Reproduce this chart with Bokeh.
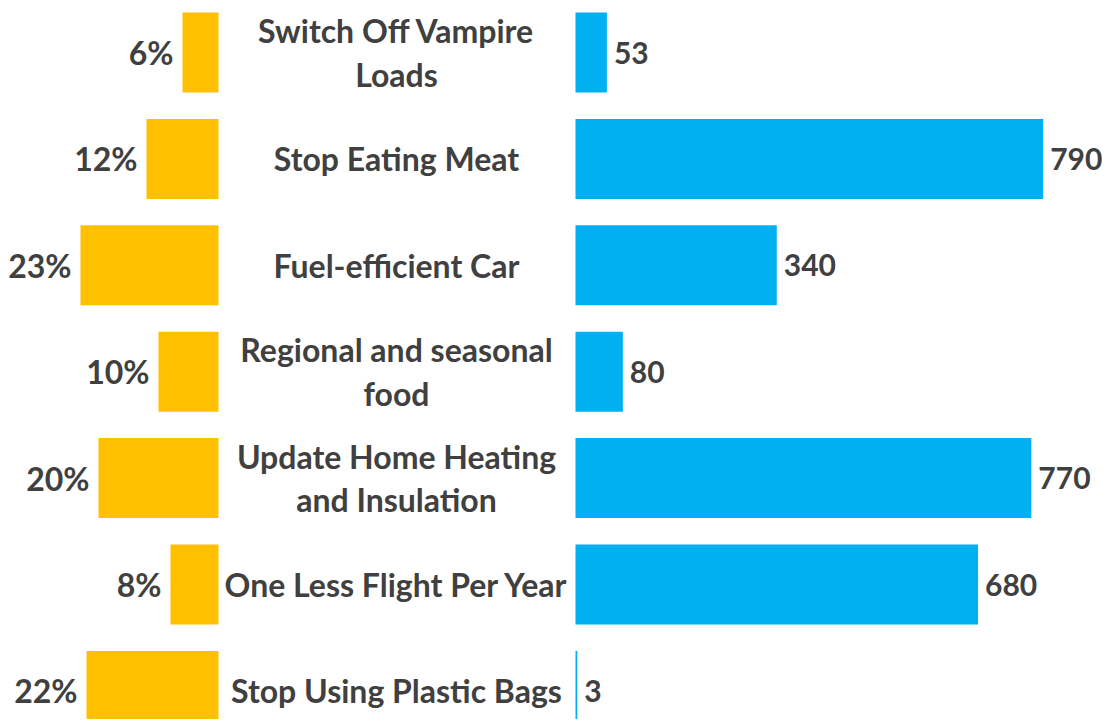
from bokeh.plotting import figure
from bokeh.models import Range1d, ColumnDataSource
from bokeh.core.properties import value
from bokeh.embed import file_html
from bokeh.resources import INLINE

categories = ["Switch Off Vampire\nLoads", "Stop Eating Meat", "Fuel-efficient Car",
              "Regional and seasonal\nfood", "Update Home Heating\nand Insulation",
              "One Less Flight Per Year", "Stop Using Plastic Bags"]
pct_values = [6, 12, 23, 10, 20, 8, 22]
co2_values = [53, 790, 340, 80, 770, 680, 3]

rows = list(range(len(categories)))
pct_labels = [f"{v}%" for v in pct_values]
co2_labels = [str(v) for v in co2_values]

W, H = 1102, 719
PCT_PX, PCT_ZERO = 6.0, 218      # px per percent, zero line of left bars
VAL_PX, VAL_ZERO = 0.592, 575    # px per unit, zero line of right bars
ROW0, PITCH = 52, 106.4

p = figure(width=W, height=H, output_backend="svg", toolbar_location=None,
           x_range=Range1d(0, W),
           y_range=Range1d((H - ROW0) / PITCH, (0 - ROW0) / PITCH),
           min_border=0, min_border_left=0, min_border_right=0,
           min_border_top=0, min_border_bottom=0)
p.extra_x_ranges = {
    "pct": Range1d(start=PCT_ZERO / PCT_PX, end=(PCT_ZERO - W) / PCT_PX),
    "val": Range1d(start=-VAL_ZERO / VAL_PX, end=(W - VAL_ZERO) / VAL_PX),
}
p.outline_line_color = None
p.xaxis.visible = False
p.yaxis.visible = False
p.xgrid.visible = False
p.ygrid.visible = False
p.background_fill_color = "white"
p.border_fill_color = "white"

src = ColumnDataSource(dict(y=rows, cat=categories, pct=pct_values, val=co2_values,
                            pl=pct_labels, vl=co2_labels, zero=[0] * len(rows)))

TXT = "#404040"
FONT = value("Lato")
FS = "32px"

p.hbar(y="y", left="zero", right="pct", height=80 / PITCH, source=src,
       fill_color="#FFC000", line_color=None, x_range_name="pct")
p.hbar(y="y", left="zero", right="val", height=80 / PITCH, source=src,
       fill_color="#00B0F0", line_color=None, x_range_name="val")

p.text(x="pct", y="y", text="pl", source=src, x_range_name="pct",
       x_offset=-9, text_align="right", text_baseline="middle",
       text_font=FONT, text_font_style="bold", text_font_size=FS, text_color=TXT)
p.text(x="val", y="y", text="vl", source=src, x_range_name="val",
       x_offset=7, text_align="left", text_baseline="middle",
       text_font=FONT, text_font_style="bold", text_font_size="30px", text_color=TXT)

src2 = ColumnDataSource(dict(y=rows, cat=categories, cx=[396] * len(rows)))
p.text(x="cx", y="y", text="cat", source=src2,
       text_align="center", text_baseline="middle", text_line_height=1.12,
       text_font=FONT, text_font_style="bold", text_font_size=FS, text_color=TXT)

open("out.html", "w").write(file_html(p, INLINE))
